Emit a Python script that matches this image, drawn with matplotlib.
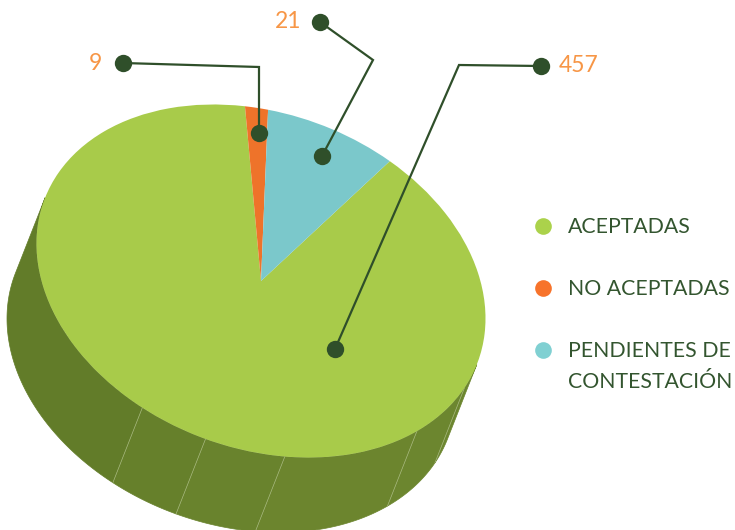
import numpy as np
import matplotlib
matplotlib.use("Agg")
import matplotlib.pyplot as plt
from matplotlib.transforms import Affine2D

# values printed on the chart
categories = ["ACEPTADAS", "NO ACEPTADAS", "PENDIENTES DE\nCONTESTACIÓN"]
values = [457, 9, 21]
# the slices are not drawn to scale in the original, so shares are read off the picture
slice_shares = [89.14, 1.64, 9.22]
slice_colors = ["#A8CB4A", "#EE732A", "#7BC8CB"]
legend_colors = ["#ABD24B", "#F7732B", "#80D0D2"]

# side wall pieces, as angles on the rim
wall_edges = [16, 25, 46, 83.9, 104.3, 121.9, 196]
wall_colors = ["#6C862F", "#6C862F", "#6C852E", "#69832D", "#66802B", "#627C29"]

dark = "#2F4F2A"
label_color = "#F79646"
text_color = "#33552F"

# pie ellipse in pixels
cx, cy = 261, 281
lxx, lyx, lyy = 224.5, 37.4, 172.5
dx, dy = -29.5, 75

plt.rcParams["font.family"] = ["Lato", "DejaVu Sans"]
fig = plt.figure(figsize=(7.35, 5.30), dpi=100)
ax = fig.add_axes([0, 0, 1, 1])


def rim(deg):
    t = np.radians(deg)
    return cx + lxx * np.cos(t), cy + lyx * np.cos(t) + lyy * np.sin(t)


# side wall
for i, col in enumerate(wall_colors):
    x, y = rim(np.linspace(wall_edges[i], wall_edges[i + 1], 80))
    ax.fill(np.r_[x, x[::-1] + dx], np.r_[y, y[::-1] + dy], color=col, lw=0.5, zorder=1)
for e in wall_edges[1:-1]:
    x, y = rim(e)
    ax.plot([x, x + dx], [y, y + dy], color="#A9BA80", lw=0.5, zorder=2)

# top face
wedges, _ = ax.pie(slice_shares, colors=slice_colors, startangle=-55, radius=1,
                   wedgeprops={"linewidth": 0})
squash = Affine2D.from_values(lxx, lyx, 0, lyy, cx, cy)
for w in wedges:
    w.set_transform(squash + ax.transData)
    w.set_zorder(3)

ax.set_aspect("auto")
ax.set_xlim(0, 735)
ax.set_ylim(530, 0)
ax.set_axis_off()

# leader lines
leaders = {
    9: ([123, 259, 259], [63, 67, 133]),
    21: ([320, 373, 322], [22, 60, 156]),
    457: ([541, 459, 335], [66, 65, 349]),
}
for v in values:
    xs, ys = leaders[v]
    ax.plot(xs, ys, color=dark, lw=1.6, zorder=4, solid_joinstyle="miter")
    ax.plot([xs[0], xs[-1]], [ys[0], ys[-1]], "o", color=dark, ms=12.5, mew=0, zorder=5)

ax.text(102, 64, str(values[1]), color=label_color, fontsize=16.5, ha="right", va="center")
ax.text(301, 22, str(values[2]), color=label_color, fontsize=16.5, ha="right", va="center")
ax.text(559, 66, str(values[0]), color=label_color, fontsize=16.5, ha="left", va="center")

# legend
dot_y = [226, 288, 350]
text_y = [227, 289, 366.5]
for name, col, y, ty in zip(categories, legend_colors, dot_y, text_y):
    ax.plot([543.5], [y], "o", color=col, ms=12, mew=0, zorder=5)
    ax.text(568, ty, name, color=text_color, fontsize=15.3, ha="left", va="center", linespacing=1.65)

fig.savefig("out.png", dpi=100)
